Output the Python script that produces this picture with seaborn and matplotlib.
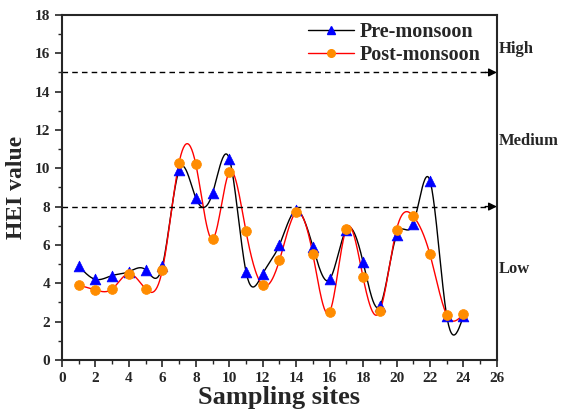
import numpy as np
import pandas as pd
import matplotlib
matplotlib.use("Agg")
import matplotlib.pyplot as plt
import seaborn as sns
from matplotlib.lines import Line2D

# Data
sites = list(range(1, 25))
pre_monsoon = [4.9, 4.2, 4.4, 4.6, 4.7, 4.9, 9.9, 8.45, 8.7, 10.5, 4.6, 4.5,
               6.0, 7.8, 5.9, 4.2, 6.8, 5.1, 2.8, 6.5, 7.1, 9.35, 2.3, 2.3]
post_monsoon = [3.9, 3.65, 3.7, 4.5, 3.7, 4.7, 10.3, 10.2, 6.3, 9.8, 6.7, 3.9,
                5.2, 7.7, 5.5, 2.5, 6.85, 4.3, 2.55, 6.8, 7.5, 5.5, 2.35, 2.4]
thresholds = [8, 15]
zone_labels = ["Low", "Medium", "High"]
zone_label_y = [4.75, 11.4, 16.2]


def natural_spline(x, y, n=600):
    """Natural cubic spline through the points, for the smooth connecting line."""
    x = np.asarray(x, float)
    y = np.asarray(y, float)
    k = len(x)
    h = np.diff(x)
    A = np.zeros((k, k))
    b = np.zeros(k)
    A[0, 0] = A[-1, -1] = 1
    for i in range(1, k - 1):
        A[i, i - 1] = h[i - 1]
        A[i, i] = 2 * (h[i - 1] + h[i])
        A[i, i + 1] = h[i]
        b[i] = 6 * ((y[i + 1] - y[i]) / h[i] - (y[i] - y[i - 1]) / h[i - 1])
    m = np.linalg.solve(A, b)
    xs = np.linspace(x[0], x[-1], n)
    idx = np.clip(np.searchsorted(x, xs) - 1, 0, k - 2)
    x0, x1 = x[idx], x[idx + 1]
    hh = x1 - x0
    t0, t1 = x1 - xs, xs - x0
    ys = (m[idx] * t0 ** 3 / (6 * hh) + m[idx + 1] * t1 ** 3 / (6 * hh)
          + (y[idx] / hh - m[idx] * hh / 6) * t0
          + (y[idx + 1] / hh - m[idx + 1] * hh / 6) * t1)
    return xs, ys


sns.set_style("ticks")
plt.rcParams['font.family'] = ['Liberation Serif', 'DejaVu Serif']
plt.rcParams['font.weight'] = 'bold'

fig = plt.figure(figsize=(5.64, 4.16), dpi=100)
ax = fig.add_axes([0.110, 0.135, 0.771, 0.829])

orange = "#FF8C00"
blue = "#0000FF"

xs, ys = natural_spline(sites, pre_monsoon)
sns.lineplot(x=xs, y=ys, ax=ax, color="black", linewidth=1.0, sort=False)
xs, ys = natural_spline(sites, post_monsoon)
sns.lineplot(x=xs, y=ys, ax=ax, color="red", linewidth=1.0, sort=False)

df = pd.DataFrame({"site": sites, "pre": pre_monsoon, "post": post_monsoon})
sns.scatterplot(data=df, x="site", y="pre", ax=ax, marker="^", s=60,
                color=blue, edgecolor=blue, linewidth=0.5, zorder=3)
sns.scatterplot(data=df, x="site", y="post", ax=ax, marker="o", s=50,
                color=orange, edgecolor=orange, linewidth=0.5, zorder=4)

# threshold lines with arrowheads
for t in thresholds:
    ax.plot([0, 25.5], [t, t], color="black", linestyle=(0, (4, 3)), linewidth=1.0)
    ax.annotate("", xy=(26, t), xytext=(25.3, t),
                arrowprops=dict(arrowstyle="-|>", color="black", lw=1.0,
                                mutation_scale=12, shrinkA=0, shrinkB=0))

for lab, yv in zip(zone_labels, zone_label_y):
    ax.text(26.1, yv, lab, fontsize=12, fontweight="bold", va="center", ha="left",
            clip_on=False)

ax.set_xlim(0, 26)
ax.set_ylim(0, 18)
ax.set_xticks(range(0, 27, 2))
ax.set_xticks(range(0, 27, 1), minor=True)
ax.set_yticks(range(0, 19, 2))
ax.set_yticks(range(0, 19, 1), minor=True)
ax.tick_params(axis="both", which="major", direction="out", length=5, width=1.2,
               labelsize=11)
ax.tick_params(axis="both", which="minor", direction="out", length=3, width=1.0)
for lbl in ax.get_xticklabels() + ax.get_yticklabels():
    lbl.set_fontweight("bold")
for side in ax.spines.values():
    side.set_linewidth(1.5)

ax.set_xlabel("Sampling sites", fontsize=19, fontweight="bold", labelpad=1)
ax.set_ylabel("HEI value", fontsize=17, fontweight="bold", labelpad=6)

handles = [
    Line2D([0], [0], color="black", linewidth=1.0, marker="^", markersize=5.5,
           markerfacecolor=blue, markeredgecolor=blue),
    Line2D([0], [0], color="red", linewidth=1.0, marker="o", markersize=5.5,
           markerfacecolor=orange, markeredgecolor=orange),
]
ax.legend(handles, ["Pre-monsoon", "Post-monsoon"], loc="upper right",
          bbox_to_anchor=(0.985, 1.01), frameon=False,
          prop={"size": 14.5, "weight": "bold"},
          handlelength=2.3, handletextpad=0.25, labelspacing=0.15,
          borderaxespad=0.1)

fig.savefig("out.png", dpi=100)
